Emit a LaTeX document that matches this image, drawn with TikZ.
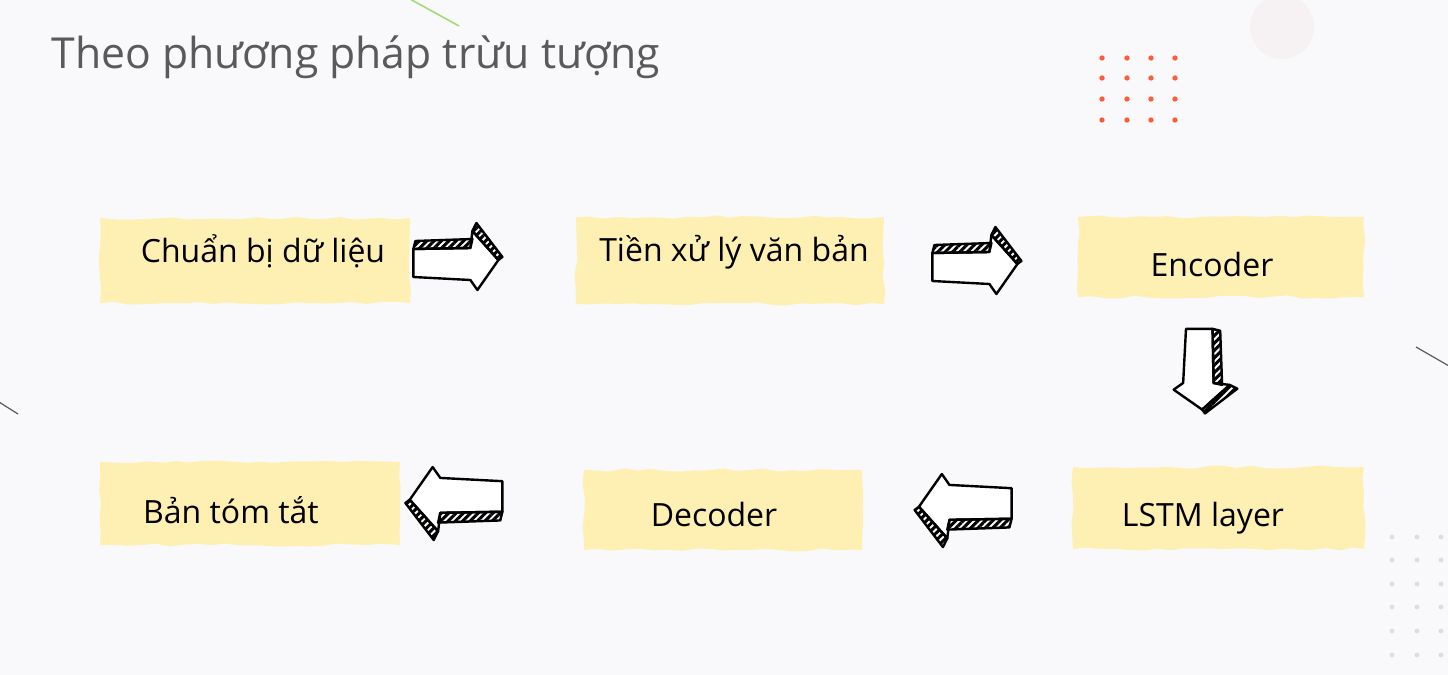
\documentclass[tikz,border=0pt]{standalone}
\usepackage{fontspec}
\setmainfont{Open Sans}
\usetikzlibrary{calc,decorations.pathmorphing,patterns.meta}

\definecolor{pagebg}{HTML}{F9F9FB}
\definecolor{notefill}{HTML}{FEEFB3}
\definecolor{titlegrey}{HTML}{5A5A5A}
\definecolor{dotred}{HTML}{FF5B36}
\definecolor{dotgrey}{HTML}{DDDDDD}
\definecolor{blob}{HTML}{F6F1F2}
\definecolor{leafgreen}{HTML}{A3DC76}

\tikzset{
  notebox/.style={fill=notefill, inner sep=0pt, decorate,
    decoration={random steps, segment length=7pt, amplitude=0.8pt}},
  notetext/.style={font=\fontsize{16}{19}\selectfont, anchor=base, inner sep=0pt},
  sketch/.style={line width=1.2pt, line join=round, line cap=round},
  hatchband/.style={pattern={Lines[angle=45,distance=2.6pt,line width=1.5pt]}},
  pics/sketcharrow/.style={code={
    % front face
    \filldraw[sketch, fill=white] (-89,-8) -- (-89,20) -- (-32,23) -- (-25,33)
      -- (-4,3) -- (-30,-26) -- (-32,-9) -- cycle;
    % hatched top bands
    \filldraw[sketch, hatchband] (-89,-8) -- (-87,-16) -- (-30,-18) -- (-32,-9) -- cycle;
    \filldraw[sketch, hatchband] (-30,-26) -- (-26,-34) -- (0,0) -- (-4,3) -- cycle;
  }}
}

\begin{document}
\begin{tikzpicture}[x=0.5pt, y=-0.5pt]

  \fill[pagebg] (0,0) rectangle (1448,675);
  \useasboundingbox (0,0) rectangle (1448,675);

  % background decorations
  \fill[blob] (1282,27) circle (32);
  \draw[leafgreen, line width=0.8pt] (410,-1) -- (459,26);
  \draw[titlegrey, line width=0.6pt] (1416,347) -- (1449,366);
  \draw[titlegrey, line width=0.6pt] (-1,402) -- (18,414);
  \foreach \x in {1102,1127,1151,1175}
    \foreach \y in {58,78,99,120}
      \fill[dotred] (\x,\y) circle (2.7);
  \foreach \x in {1392,1417,1441}
    \foreach \y in {537,560,584,607,631,655}
      \fill[dotgrey] (\x,\y) circle (2.4);

  \node[font=\fontsize{21.35}{25}\selectfont, text=titlegrey, anchor=base west, inner sep=0pt]
    (title) at (51,68) {Theo phương pháp trừu tượng};

  % boxes
  \node[notebox, minimum width=155pt, minimum height=42.5pt] (data) at (255,260.5) {};
  \node[notebox, minimum width=154pt, minimum height=43.5pt] (prep) at (730,260.5) {};
  \node[notebox, minimum width=143pt, minimum height=40pt] (enc) at (1221,257) {};
  \node[notebox, minimum width=145.5pt, minimum height=41pt] (lstm) at (1218.5,508) {};
  \node[notebox, minimum width=139pt, minimum height=40pt] (dec) at (723,510) {};
  \node[notebox, minimum width=150pt, minimum height=41.5pt] (summ) at (250,503.5) {};

  \node[notetext] (datatxt) at (263,262) {Chuẩn bị dữ liệu};
  \node[notetext] (preptxt) at (734,261) {Tiền xử lý văn bản};
  \node[notetext] (enctxt) at (1212,276) {Encoder};
  \node[notetext] (lstmtxt) at (1203,526) {LSTM layer};
  \node[notetext] (dectxt) at (714,526) {Decoder};
  \node[notetext] (summtxt) at (231,523) {Bản tóm tắt};

  % arrows
  \pic (a1) at ($(data.east)+(92,-3.5)$) {sketcharrow};
  \pic (a2) at ($(prep.east)+(137,0.5)$) {sketcharrow};
  \pic[rotate=-90, scale=0.95] (a3) at ($(enc.south)+(-16,116)$) {sketcharrow};
  \pic[rotate=180, scale=1.09] (a4) at ($(lstm.west)+(-158,2)$) {sketcharrow};
  \pic[rotate=180, scale=1.09] (a5) at ($(summ.east)+(5,-0.5)$) {sketcharrow};

\end{tikzpicture}
\end{document}
